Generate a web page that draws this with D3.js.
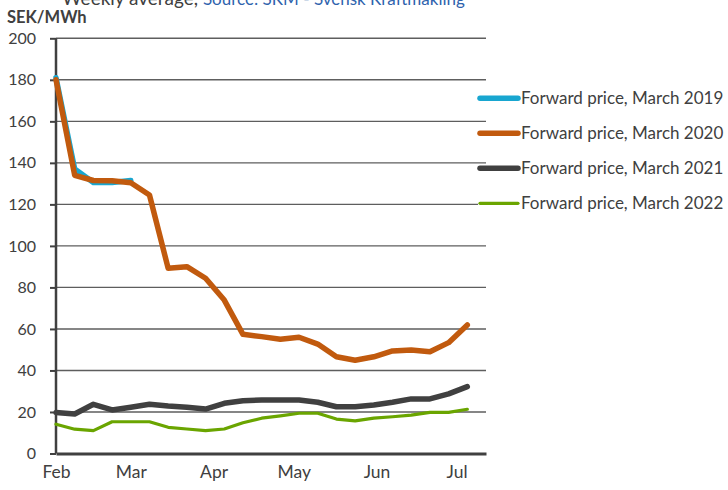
<!DOCTYPE html>
<html>
<head>
<meta charset="utf-8">
<script src="https://cdn.jsdelivr.net/npm/d3@7"></script>
<style>
  body { margin: 0; background: #fff; }
  text { font-family: Lato, "Open Sans", sans-serif; }
</style>
</head>
<body>
<div id="chart-area"></div>
<script>
// Weekly dates, starting 1 Feb
var weekStarts = ["2021-02-01","2021-02-08","2021-02-15","2021-02-22","2021-03-01","2021-03-08",
    "2021-03-15","2021-03-22","2021-03-29","2021-04-05","2021-04-12","2021-04-19","2021-04-26",
    "2021-05-03","2021-05-10","2021-05-17","2021-05-24","2021-05-31","2021-06-07","2021-06-14",
    "2021-06-21","2021-06-28","2021-07-05"]

var price2019 = [181, 137, 130.5, 130.5, 131.5]
var price2020 = [180, 134, 131.5, 131.4, 130.4, 124.5, 89.2, 90, 84.4, 73.9, 57.4, 56.3, 55,
    56, 52.7, 46.6, 44.9, 46.6, 49.4, 49.9, 49, 53.4, 61.9]
var price2021 = [19.7, 19, 23.7, 21, 22.3, 23.7, 22.9, 22.3, 21.4, 24.2, 25.4, 25.8, 25.8,
    25.8, 24.7, 22.5, 22.5, 23.4, 24.7, 26.3, 26.3, 28.7, 32.2]
var price2022 = [14.1, 11.7, 11, 15.3, 15.3, 15.3, 12.6, 11.8, 11, 11.8, 14.8, 17, 18.1,
    19.4, 19.4, 16.6, 15.7, 17, 17.7, 18.5, 19.8, 19.8, 21.3]

var seriesNames = ["Forward price, March 2019", "Forward price, March 2020",
    "Forward price, March 2021", "Forward price, March 2022"]
var yTicks = [0, 20, 40, 60, 80, 100, 120, 140, 160, 180, 200]
var monthTicks = ["2021-02-01","2021-03-01","2021-04-01","2021-05-01","2021-06-01","2021-07-01"]

var parse = d3.timeParse("%Y-%m-%d")

var series = [
    {name: seriesNames[0], values: price2019, color: "#18a6d0", width: 5.5},
    {name: seriesNames[1], values: price2020, color: "#c15a0e", width: 5.5},
    {name: seriesNames[2], values: price2021, color: "#404040", width: 5.5},
    {name: seriesNames[3], values: price2022, color: "#6aa500", width: 3.2}
]

var svg = d3.select("#chart-area")
    .append("svg")
        .attr("width", 728)
        .attr("height", 490)

// Scales
var x = d3.scaleTime()
    .domain([parse("2021-02-01"), parse("2021-07-12")])
    .range([56, 486])
var y = d3.scaleLinear()
    .domain([0, 200])
    .range([453.5, 38.3])

// Header texts (top one sits partly above the edge, as in the original)
var head = svg.append("text")
    .attr("x", 62)
    .attr("y", 5)
head.append("tspan")
    .attr("font-size", 19)
    .attr("fill", "#404040")
    .text("Weekly average, ")
head.append("tspan")
    .attr("font-size", 17)
    .attr("fill", "#2f63ad")
    .text("Source: SKM - Svensk Kraftmäkling")

svg.append("text")
    .attr("x", 7)
    .attr("y", 22.7)
    .attr("font-size", 16.5)
    .attr("font-weight", "bold")
    .attr("fill", "#404040")
    .text("SEK/MWh")

// Gridlines
svg.append("g")
    .selectAll("line")
    .data(yTicks.filter(d => d > 0))
    .enter().append("line")
        .attr("x1", 56)
        .attr("x2", 486)
        .attr("y1", d => y(d))
        .attr("y2", d => y(d))
        .attr("stroke", "#5e5e5e")
        .attr("stroke-width", 1.4)

// Y axis
var yAxisCall = d3.axisLeft(y)
    .tickValues(yTicks)
    .tickSize(6)
    .tickPadding(14)
var yAxis = svg.append("g")
    .attr("transform", "translate(56, 0)")
    .call(yAxisCall)
yAxis.select(".domain")
    .attr("stroke", "#404040")
    .attr("stroke-width", 2.5)
    .attr("d", "M0," + y(0) + "V" + y(200))
yAxis.selectAll(".tick line")
    .attr("stroke", "#404040")
    .attr("stroke-width", 2)
yAxis.selectAll(".tick text")
    .attr("font-size", 16)
    .attr("fill", "#404040")
    .attr("font-family", "Lato, sans-serif")

// X axis
var xAxisCall = d3.axisBottom(x)
    .tickValues(monthTicks.map(parse))
    .tickSize(0)
    .tickPadding(12)
    .tickFormat(d3.timeFormat("%b"))
var xAxis = svg.append("g")
    .attr("transform", "translate(0, " + y(0) + ")")
    .call(xAxisCall)
xAxis.select(".domain")
    .attr("stroke", "#404040")
    .attr("stroke-width", 2.8)
xAxis.selectAll(".tick text")
    .attr("font-size", 17.5)
    .attr("fill", "#404040")
    .attr("font-family", "Lato, sans-serif")

// Lines
var line = d3.line()
    .x((d, i) => x(parse(weekStarts[i])))
    .y(d => y(d))

svg.append("g")
    .selectAll("path")
    .data(series)
    .enter().append("path")
        .attr("d", d => line(d.values))
        .attr("fill", "none")
        .attr("stroke", d => d.color)
        .attr("stroke-width", d => d.width)
        .attr("stroke-linejoin", "round")
        .attr("stroke-linecap", "round")

// Legend
var legend = svg.append("g")
    .selectAll("g")
    .data(series)
    .enter().append("g")
        .attr("transform", (d, i) => "translate(0, " + (98.3 + i * 35) + ")")
legend.append("rect")
    .attr("x", 478)
    .attr("y", -3)
    .attr("width", 250)
    .attr("height", 6)
    .attr("fill", "#fff")
legend.append("line")
    .attr("x1", 480)
    .attr("x2", 518)
    .attr("stroke", d => d.color)
    .attr("stroke-width", d => d.width)
    .attr("stroke-linecap", "round")
legend.append("text")
    .attr("x", 521)
    .attr("y", 6)
    .attr("font-size", 17)
    .attr("fill", "#404040")
    .text(d => d.name)
</script>
</body>
</html>
